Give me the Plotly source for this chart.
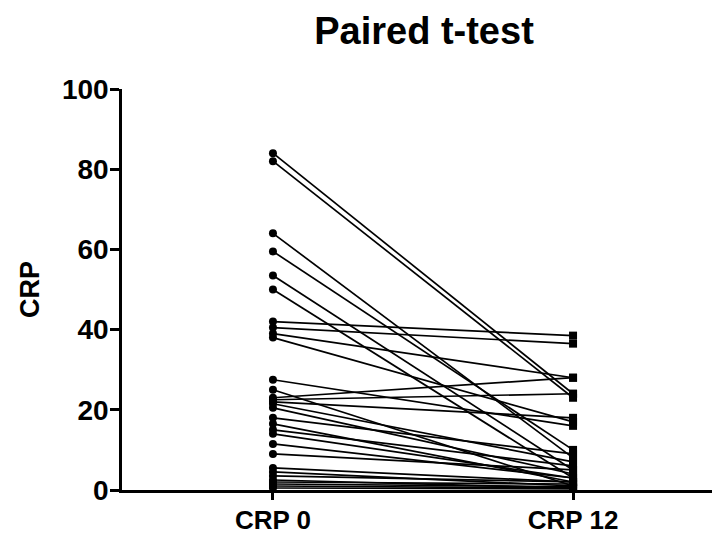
import plotly.graph_objects as go

categories = ["CRP 0", "CRP 12"]
crp0 = [84, 82, 64, 59.5, 53.5, 50, 42, 40.5, 39, 38, 27.5, 25, 23, 22.5, 22, 21.5, 20.5,
        18, 16.5, 15, 14, 11.5, 9, 5.5, 4.5, 3.5, 2.5, 2, 1.5, 1, 0.5]
crp12 = [24, 23, 8, 10, 5, 3, 38.5, 36.5, 28, 17, 16, 1, 28, 24, 18, 7, 4,
         9, 2, 6, 3, 3, 5, 2, 1, 2, 0.5, 1.5, 0.8, 0.5, 0.3]
y_ticks = [0, 20, 40, 60, 80, 100]

xs, ys = [], []
for a, b in zip(crp0, crp12):
    xs += [0, 1, None]
    ys += [a, b, None]

fig = go.Figure()
fig.add_trace(go.Scatter(x=xs, y=ys, mode="lines", line=dict(color="black", width=1.7),
                         hoverinfo="skip", showlegend=False, cliponaxis=False))
fig.add_trace(go.Scatter(x=[0] * len(crp0), y=crp0, mode="markers",
                         marker=dict(symbol="circle", size=8, color="black"),
                         showlegend=False, cliponaxis=False))
fig.add_trace(go.Scatter(x=[1] * len(crp12), y=crp12, mode="markers",
                         marker=dict(symbol="square", size=8, color="black"),
                         showlegend=False, cliponaxis=False))

FAM = "Liberation Sans, Arial, sans-serif"
fig.update_layout(
    width=715, height=535,
    margin=dict(l=122, r=3, t=89, b=45, autoexpand=False),
    paper_bgcolor="white", plot_bgcolor="white",
    title=dict(text="<b>Paired t-test</b>", x=0.593, xanchor="center", y=0.943, yanchor="middle",
               font=dict(family=FAM, size=38, color="black")),
    xaxis=dict(range=[-0.503, 1.463], tickvals=[0, 1], automargin=False,
               ticktext=["<b>%s</b>" % c for c in categories], ticklabelstandoff=-2,
               showgrid=False, zeroline=False, showline=True, linecolor="black", linewidth=2.5,
               ticks="outside", ticklen=7, tickwidth=2.5, tickcolor="black",
               tickfont=dict(family=FAM, size=26, color="black")),
    yaxis=dict(range=[0, 100], tickvals=y_ticks, ticktext=["<b>%d</b>" % t for t in y_ticks],
               automargin=False, ticklabelstandoff=-4,
               showgrid=False, zeroline=False, showline=True, linecolor="black", linewidth=2.5,
               ticks="outside", ticklen=9, tickwidth=2.5, tickcolor="black",
               tickfont=dict(family=FAM, size=28, color="black"),
               title=dict(text="<b>CRP</b>",
                          font=dict(family=FAM, size=27, color="black"))),
)
fig.write_html("out.html", config={"displayModeBar": False},
               post_script="document.body.style.margin='0';")
